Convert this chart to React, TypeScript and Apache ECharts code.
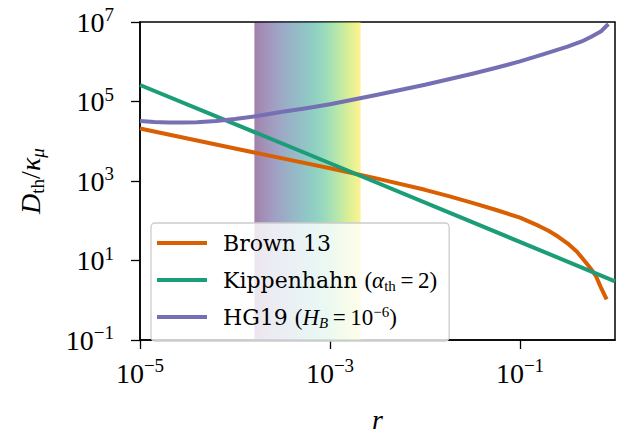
import React, { useEffect, useRef } from "react";
import * as echarts from "echarts";

// ---- data ----
const brownR = [1e-5, 3.16e-5, 1e-4, 3.16e-4, 1e-3, 3.16e-3, 1e-2, 0.01778, 3.16e-2, 0.05623, 0.1, 0.158, 0.1995, 0.251, 0.316, 0.398, 0.501, 0.5623, 0.631, 0.708, 0.759, 0.817];
const brownD = [2.09e4, 1.17e4, 6.6e3, 3.7e3, 2.1e3, 1.15e3, 600, 417, 282, 186, 120, 74, 56.2, 40, 27, 16.6, 8.5, 6.03, 4.0, 2.14, 1.51, 1.05];

const kipR = [1e-5, 1e-3, 1];
const kipD = [2.6e5, 2.8e3, 3.0];

const hgR = [1e-5, 1.413e-5, 2e-5, 2.818e-5, 3.98e-5, 6.31e-5, 1e-4, 1.778e-4, 3.16e-4, 5.623e-4, 1e-3, 1.778e-3, 3.16e-3, 5.623e-3, 1e-2, 0.01778, 3.16e-2, 0.05623, 0.1, 0.1778, 0.316, 0.4467, 0.562, 0.708, 0.851];
const hgD = [3.24e4, 3.05e4, 2.95e4, 2.95e4, 3.0e4, 3.24e4, 3.63e4, 4.37e4, 5.5e4, 6.76e4, 8.5e4, 1.12e5, 1.48e5, 1.97e5, 2.63e5, 3.63e5, 5.0e5, 7.08e5, 1.02e6, 1.55e6, 2.4e6, 3.24e6, 4.27e6, 5.75e6, 8.9e6];

const bandRange = [1.6e-4, 2.1e-3];

const xTicks = [1e-5, 1e-3, 1e-1];
const yTicks = [1e-1, 1e1, 1e3, 1e5, 1e7];

const seriesNames = ["Brown 13", "Kippenhahn", "HG19"];
const seriesColors = ["#d95f02", "#1b9e77", "#7570b3"];

const viridis = ["#440154", "#482878", "#3e4989", "#31688e", "#26828e", "#1f9e89", "#35b779", "#6ece58", "#b5de2b", "#fde725"];

const MATH = "'Liberation Serif', 'DejaVu Serif', serif";
const TEXT = "'DejaVu Serif', serif";

function zip(xs: number[], ys: number[]) {
  return xs.map((x, i) => [x, ys[i]]);
}

function hexToRgba(hex: string, a: number) {
  const n = parseInt(hex.slice(1), 16);
  return `rgba(${(n >> 16) & 255},${(n >> 8) & 255},${n & 255},${a})`;
}

function powLabel(v: number) {
  const e = Math.round(Math.log10(v));
  const s = e < 0 ? "\u2212" + -e : String(e);
  return `{b|10}{s|${s}}`;
}

const tickRich = {
  b: { fontFamily: MATH, fontSize: 28, lineHeight: 34, color: "#000" },
  s: { fontFamily: MATH, fontSize: 19, lineHeight: 22, verticalAlign: "top", color: "#000" },
};

export default function App() {
  const ref = useRef<HTMLDivElement>(null);
  useEffect(() => {
    if (!ref.current) return;
    const chart = echarts.init(ref.current, undefined, { renderer: "svg" });
    const gradient = new echarts.graphic.LinearGradient(
      0, 0, 1, 0,
      viridis.map((c, i) => ({ offset: i / (viridis.length - 1), color: hexToRgba(c, 0.5) }))
    );
    const legendFormat: Record<string, string> = {
      "Brown 13": "{t0|Brown 13}",
      Kippenhahn: "{t0|Kippenhahn }{m|(}{mi|α}{sub|th}{m|\u2009=\u20092)}",
      HG19: "{t0|HG19 }{m|(}{mi|H}{subi|B}{m|\u2009=\u200910}{sup|\u22126}{m|)}",
    };
    chart.setOption({
      animation: false,
      grid: {
        left: 140,
        right: 3,
        top: 22,
        bottom: 88,
        show: true,
        borderColor: "#000",
        borderWidth: 1.5,
        backgroundColor: "transparent",
      },
      legend: {
        data: seriesNames,
        orient: "vertical",
        left: 151,
        top: 223,
        padding: [7, 12, 11, 6],
        itemGap: 11,
        itemWidth: 50,
        itemHeight: 4,
        icon: "rect",
        backgroundColor: "rgba(255,255,255,0.8)",
        borderColor: "#cccccc",
        borderWidth: 1.3,
        borderRadius: 4,
        formatter: (name: string) => legendFormat[name] || name,
        textStyle: {
          color: "#000",
          lineHeight: 26,
          rich: {
            t0: { fontFamily: TEXT, fontSize: 22, lineHeight: 26, padding: [0, 0, 0, 11], color: "#000" },
            m: { fontFamily: MATH, fontSize: 23, lineHeight: 26, color: "#000" },
            mi: { fontFamily: MATH, fontSize: 23, lineHeight: 26, fontStyle: "italic", color: "#000" },
            sub: { fontFamily: MATH, fontSize: 15, lineHeight: 16, verticalAlign: "bottom", color: "#000" },
            subi: { fontFamily: MATH, fontSize: 15, lineHeight: 16, verticalAlign: "bottom", fontStyle: "italic", color: "#000" },
            sup: { fontFamily: MATH, fontSize: 15, lineHeight: 16, verticalAlign: "top", color: "#000" },
          },
        },
      },
      xAxis: {
        type: "log",
        logBase: 10,
        min: 1e-5,
        max: 1,
        name: "{i|r}",
        nameLocation: "middle",
        nameGap: 64,
        nameTextStyle: {
          rich: { i: { fontFamily: MATH, fontSize: 28, fontStyle: "italic", color: "#000", lineHeight: 30 } },
        },
        axisLine: { show: true, lineStyle: { color: "#000", width: 1.5 } },
        axisTick: { show: true, length: 9, lineStyle: { color: "#000", width: 1.3 }, customValues: xTicks },
        axisLabel: { margin: 16, formatter: powLabel, rich: tickRich, customValues: xTicks },
        splitLine: { show: false },
        minorTick: { show: false },
      },
      yAxis: {
        type: "log",
        logBase: 10,
        min: 1e-1,
        max: 1e7,
        name: "{i|D}{sb|th}{n|/}{i|κ}{si|μ}",
        nameLocation: "middle",
        nameRotate: 90,
        nameGap: 93,
        nameTextStyle: {
          rich: {
            i: { fontFamily: MATH, fontSize: 28, fontStyle: "italic", lineHeight: 34, color: "#000" },
            n: { fontFamily: MATH, fontSize: 28, lineHeight: 34, color: "#000" },
            sb: { fontFamily: MATH, fontSize: 19, lineHeight: 22, verticalAlign: "bottom", color: "#000" },
            si: { fontFamily: MATH, fontSize: 19, lineHeight: 22, verticalAlign: "bottom", fontStyle: "italic", color: "#000" },
          },
        },
        axisLine: { show: true, lineStyle: { color: "#000", width: 1.5 } },
        axisTick: { show: true, length: 9, lineStyle: { color: "#000", width: 1.3 }, customValues: yTicks },
        axisLabel: { margin: 26, formatter: powLabel, rich: tickRich, customValues: yTicks },
        splitLine: { show: false },
        minorTick: { show: false },
      },
      series: [
        {
          name: "band",
          type: "line",
          data: [],
          z: 1,
          silent: true,
          markArea: {
            silent: true,
            itemStyle: { color: gradient },
            data: [[{ xAxis: bandRange[0] }, { xAxis: bandRange[1] }]],
          },
        },
        ...[zip(brownR, brownD), zip(kipR, kipD), zip(hgR, hgD)].map((d, i) => ({
          name: seriesNames[i],
          type: "line",
          data: d,
          z: 3,
          showSymbol: false,
          symbol: "none",
          smooth: false,
          color: seriesColors[i],
          lineStyle: { width: 4, color: seriesColors[i], cap: "butt", join: "round" },
          itemStyle: { color: seriesColors[i] },
        })),
      ],
    });
    return () => chart.dispose();
  }, []);
  return (
    <div
      ref={ref}
      style={{ position: "fixed", left: 0, top: 0, width: 618, height: 438, background: "#fff" }}
    />
  );
}
